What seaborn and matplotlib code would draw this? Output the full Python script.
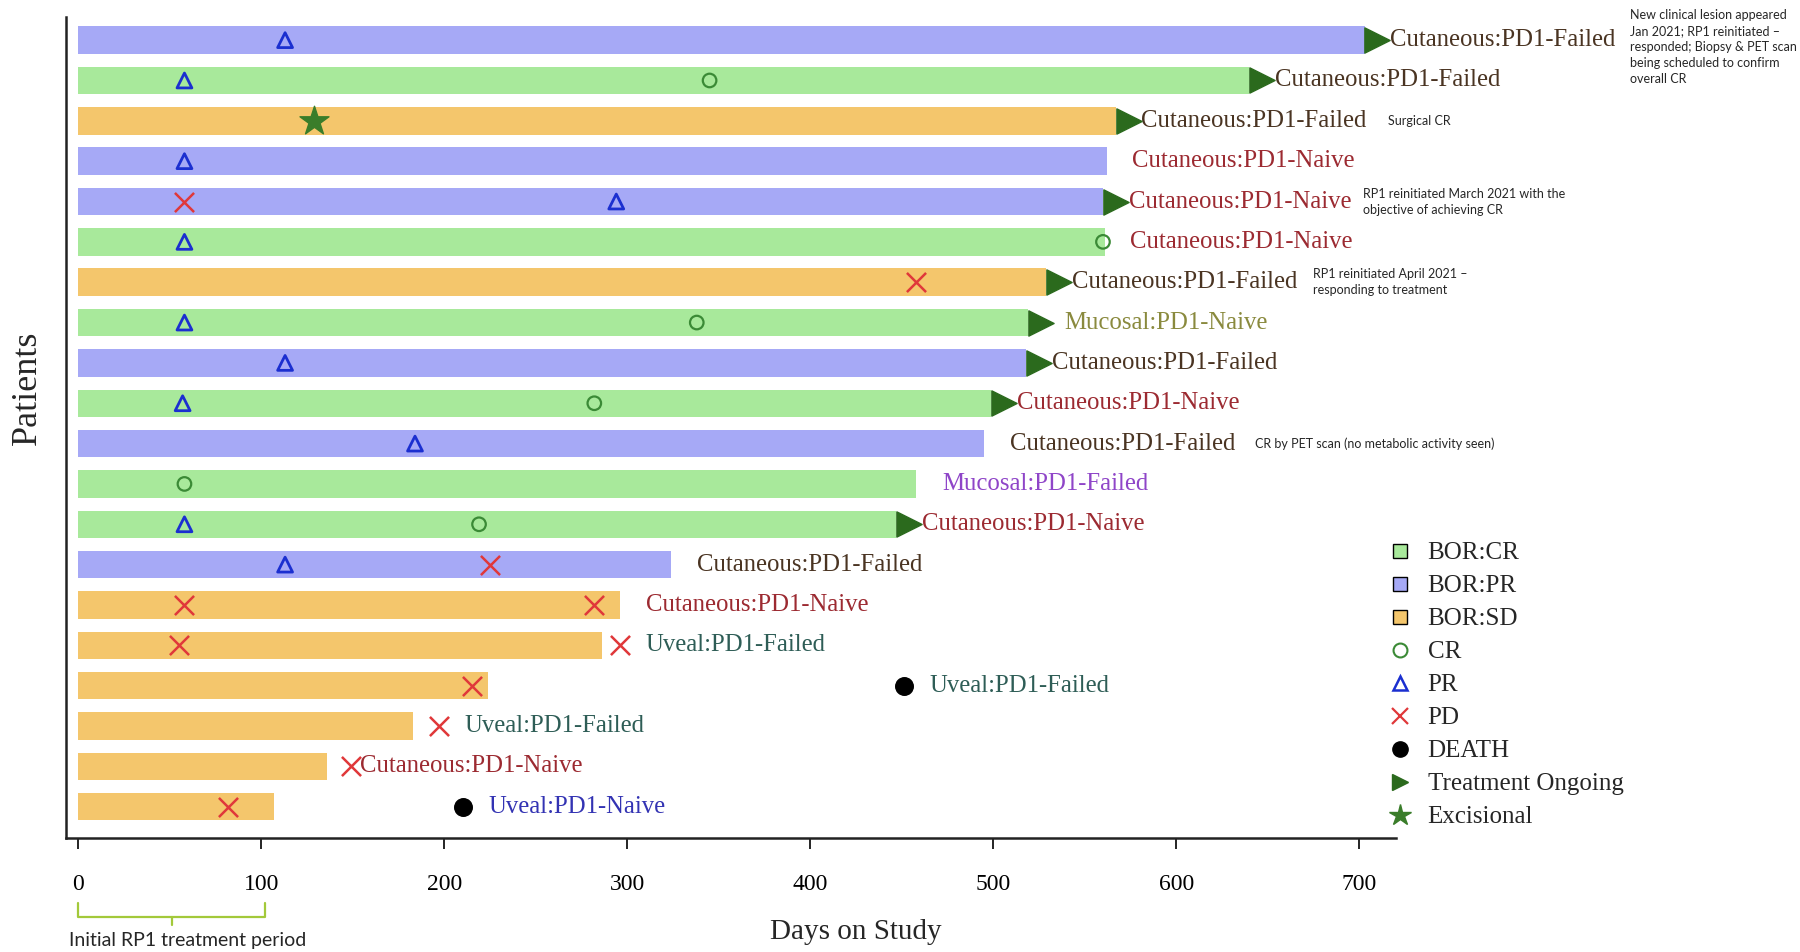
import pandas as pd
import matplotlib
matplotlib.use("Agg")
import matplotlib.pyplot as plt
import matplotlib.transforms as mtransforms
from matplotlib.lines import Line2D
import seaborn as sns

# Swimmer plot data, one entry per patient (top to bottom)
patients = [f"P{i}" for i in range(1, 21)]
days_on_study = [703, 640, 567, 562, 560, 561, 529, 519, 518, 499,
                 495, 458, 447, 324, 296, 286, 224, 183, 136, 107]
bor = ["PR", "CR", "SD", "PR", "PR", "CR", "SD", "CR", "PR", "CR",
       "PR", "CR", "CR", "PR", "SD", "SD", "SD", "SD", "SD", "SD"]
ongoing = [1, 1, 1, 0, 1, 0, 1, 1, 1, 1, 0, 0, 1, 0, 0, 0, 0, 0, 0, 0]
cohort = ["Cutaneous:PD1-Failed", "Cutaneous:PD1-Failed", "Cutaneous:PD1-Failed",
          "Cutaneous:PD1-Naive", "Cutaneous:PD1-Naive", "Cutaneous:PD1-Naive",
          "Cutaneous:PD1-Failed", "Mucosal:PD1-Naive", "Cutaneous:PD1-Failed",
          "Cutaneous:PD1-Naive", "Cutaneous:PD1-Failed", "Mucosal:PD1-Failed",
          "Cutaneous:PD1-Naive", "Cutaneous:PD1-Failed", "Cutaneous:PD1-Naive",
          "Uveal:PD1-Failed", "Uveal:PD1-Failed", "Uveal:PD1-Failed",
          "Cutaneous:PD1-Naive", "Uveal:PD1-Naive"]

# response events: patient index (0 = top) and day
pr_rows = [0, 1, 3, 4, 5, 7, 8, 9, 10, 12, 13]
pr_days = [113, 58, 58, 294, 58, 58, 113, 57, 184, 58, 113]
cr_rows = [1, 5, 7, 9, 11, 12]
cr_days = [345, 560, 338, 282, 58, 219]
pd_rows = [4, 6, 13, 14, 14, 15, 15, 16, 17, 18, 19]
pd_days = [58, 458, 225, 58, 282, 55, 296, 215, 197, 149, 82]
death_rows = [16, 19]
death_days = [451, 210]
excision_rows = [2]
excision_days = [129]

notes = {
    0: "New clinical lesion appeared\nJan 2021; RP1 reinitiated \u2013\nresponded; Biopsy & PET scan\nbeing scheduled to confirm\noverall CR",
    2: "Surgical CR",
    4: "RP1 reinitiated March 2021 with the\nobjective of achieving CR",
    6: "RP1 reinitiated April 2021 \u2013\nresponding to treatment",
    10: "CR by PET scan (no metabolic activity seen)",
}

bor_colors = {"CR": "#a8e99b", "PR": "#a6a9f6", "SD": "#f4c66c"}
cohort_colors = {
    "Cutaneous:PD1-Failed": "#4a3422",
    "Cutaneous:PD1-Naive": "#9c2a31",
    "Mucosal:PD1-Naive": "#8a8a3e",
    "Mucosal:PD1-Failed": "#8f45c8",
    "Uveal:PD1-Failed": "#2e5d56",
    "Uveal:PD1-Naive": "#3333b3",
}

df = pd.DataFrame({"patient": patients, "days": days_on_study, "bor": bor})

sns.set_style("white")
plt.rcParams["font.family"] = ["Liberation Serif", "DejaVu Serif"]
note_font = ["Lato", "DejaVu Sans"]

fig = plt.figure(figsize=(18, 9.52), dpi=100)
ax = fig.add_axes([0.0364, 0.120, 0.739, 0.862])

sns.barplot(data=df, x="days", y="patient", hue="bor", order=patients,
            palette=bor_colors, dodge=False, width=0.68, saturation=1,
            errorbar=None, legend=False, linewidth=0, ax=ax)

# markers
ax.scatter(pr_days, pr_rows, marker="^", s=115, facecolors="none",
           edgecolors="#1b2fd0", linewidths=2, zorder=4)
ax.scatter(cr_days, cr_rows, marker="o", s=95, facecolors="none",
           edgecolors="#3b8a36", linewidths=1.6, zorder=4)
ax.scatter(pd_days, pd_rows, marker="x", s=190, color="#e0383a",
           linewidths=1.8, zorder=4)
ax.scatter(death_days, death_rows, marker="o", s=160, color="black", zorder=4)
ax.scatter(excision_days, excision_rows, marker="*", s=480, color="#3a7d2a",
           zorder=4)
ongoing_rows = [i for i, o in enumerate(ongoing) if o]
ax.scatter([days_on_study[i] + 7 for i in ongoing_rows], ongoing_rows,
           marker=">", s=330, color="#2b6a1d", zorder=4, clip_on=False)

# cohort labels, placed after the last mark of each row
for i in range(len(patients)):
    last = days_on_study[i]
    for rows, ds in ((pr_rows, pr_days), (cr_rows, cr_days), (pd_rows, pd_days),
                     (death_rows, death_days)):
        for r, d in zip(rows, ds):
            if r == i:
                last = max(last, d)
    gap = {18: 5, 7: 20}.get(i, 14)
    ax.text(last + gap, i, cohort[i], color=cohort_colors[cohort[i]],
            fontsize=17.8, va="center", ha="left", clip_on=False)

# free-text notes
note_pos = {0: (848, -0.78, "top"), 2: (716, 2, "center"), 4: (702, 4, "center"),
            6: (675, 6, "center"), 10: (643, 10, "center")}
for i, txt in notes.items():
    nx, ny, va = note_pos[i]
    ax.text(nx, ny, txt, fontsize=9, family=note_font, va=va, ha="left",
            linespacing=1.4, clip_on=False)

ax.set_xlim(-7, 720)
ax.set_ylim(len(patients) - 1 + 0.77, -0.57)
ax.set_xticks(range(0, 701, 100))
ax.set_yticks([])
ax.tick_params(axis="x", labelsize=17, direction="out", length=8, width=1.2,
               bottom=True, pad=18, colors="black")
sns.despine(ax=ax, top=True, right=True)
for side in ("left", "bottom"):
    ax.spines[side].set_linewidth(1.8)
    ax.spines[side].set_color("#222222")

ax.set_xlabel("Days on Study", fontsize=21, va="center")
ax.xaxis.set_label_coords(0.594, -0.115)
ax.set_ylabel("Patients", fontsize=26)
ax.yaxis.set_label_coords(-0.016, 0.548)

# bracket for the initial treatment period
trans = mtransforms.blended_transform_factory(ax.transData, ax.transAxes)
ax.plot([0, 0, 102, 102], [-0.080, -0.096, -0.096, -0.080], color="#a3c93a",
        lw=1.6, transform=trans, clip_on=False)
ax.plot([51, 51], [-0.096, -0.106], color="#a3c93a", lw=1.6,
        transform=trans, clip_on=False)
ax.text(60, -0.125, "Initial RP1 treatment period", transform=trans,
        fontsize=14, family=note_font, ha="center", va="center")

# legend
handles = [
    Line2D([], [], ls="none", marker="s", ms=10, mfc=bor_colors["CR"], mec="black", mew=1),
    Line2D([], [], ls="none", marker="s", ms=10, mfc=bor_colors["PR"], mec="black", mew=1),
    Line2D([], [], ls="none", marker="s", ms=10, mfc=bor_colors["SD"], mec="black", mew=1),
    Line2D([], [], ls="none", marker="o", ms=10, mfc="none", mec="#3b8a36", mew=1.5),
    Line2D([], [], ls="none", marker="^", ms=10, mfc="none", mec="#1b2fd0", mew=1.8),
    Line2D([], [], ls="none", marker="x", ms=12, color="#e0383a", mew=1.6),
    Line2D([], [], ls="none", marker="o", ms=11, color="black"),
    Line2D([], [], ls="none", marker=">", ms=12, color="#2b6a1d"),
    Line2D([], [], ls="none", marker="*", ms=16, color="#3a7d2a"),
]
labels = ["BOR:CR", "BOR:PR", "BOR:SD", "CR", "PR", "PD", "DEATH",
          "Treatment Ongoing", "Excisional"]
fig.legend(handles, labels, loc="upper left", bbox_to_anchor=(0.764, 0.444),
           frameon=False, fontsize=18, handlelength=1.0, handletextpad=0.6,
           labelspacing=0.42, borderpad=0)

fig.savefig("out.png", dpi=100)
plt.close(fig)
